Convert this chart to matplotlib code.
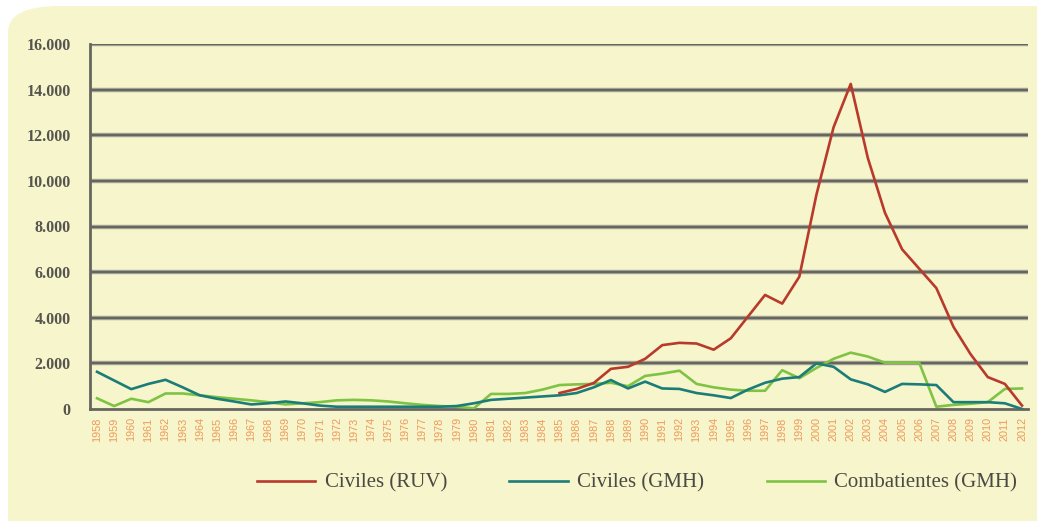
import numpy as np
import matplotlib
matplotlib.use("Agg")
import matplotlib.pyplot as plt
from matplotlib.patches import FancyBboxPatch

years = np.arange(1958, 2013)
year_labels = [str(y) for y in years]

ruv_years = np.arange(1985, 2013)
civiles_ruv = [700, 880, 1140, 1760, 1850, 2200, 2800, 2900, 2870, 2600,
               3100, 4050, 5000, 4620, 5800, 9400, 12350, 14250, 11000, 8600,
               7000, 6150, 5300, 3600, 2400, 1400, 1100, 150]

civiles_gmh = [1630, 1250, 870, 1100, 1280, 950, 600, 450, 330, 200,
               250, 330, 250, 150, 100, 100, 100, 100, 100, 100,
               100, 130, 250, 400, 450, 500, 550, 600, 700, 950,
               1270, 900, 1200, 900, 880, 700, 600, 480, 850, 1150,
               1330, 1400, 2000, 1850, 1300, 1080, 750, 1100, 1080, 1050,
               300, 300, 300, 250, 0]

combatientes_gmh = [470, 130, 450, 300, 680, 680, 600, 520, 450, 380,
                    300, 200, 250, 300, 380, 400, 380, 330, 250, 180,
                    130, 100, 30, 660, 660, 700, 850, 1050, 1080, 1100,
                    1150, 1000, 1450, 1550, 1680, 1100, 950, 850, 800, 800,
                    1700, 1350, 1800, 2200, 2470, 2300, 2030, 2030, 2030, 100,
                    180, 230, 300, 880, 900]

y_ticks = [0, 2000, 4000, 6000, 8000, 10000, 12000, 14000, 16000]
y_tick_labels = ["0", "2.000", "4.000", "6.000", "8.000", "10.000", "12.000", "14.000", "16.000"]

series_names = ["Civiles (RUV)", "Civiles (GMH)", "Combatientes (GMH)"]
colors = ["#B83A2C", "#1C7C78", "#7EC344"]

W, H = 1037, 521
fig = plt.figure(figsize=(W / 100, H / 100), dpi=100)
fig.patch.set_facecolor("white")

bg = FancyBboxPatch((8 / W, -0.1), 1.2, (H - 6) / H + 0.1,
                    boxstyle="round,pad=0,rounding_size=0.05",
                    transform=fig.transFigure, facecolor="#F7F5CC",
                    edgecolor="none", zorder=-10)
fig.patches.append(bg)

ax = fig.add_axes([90 / W, (H - 409) / H, (1028 - 90) / W, 365 / H])
ax.set_facecolor("none")
ax.set_zorder(1)

ax.set_xlim(1957.59, 2012.35)
ax.set_ylim(0, 16000)

for yt in y_ticks[1:]:
    ax.axhline(yt, color="#A8A898", lw=3.2, zorder=1)
    ax.axhline(yt, color="#666660", lw=1.6, zorder=1)

ax.plot(years, combatientes_gmh, color=colors[2], lw=1.9, zorder=3, label=series_names[2])
ax.plot(years, civiles_gmh, color=colors[1], lw=1.9, zorder=4, label=series_names[1])
ax.plot(ruv_years, civiles_ruv, color=colors[0], lw=1.9, zorder=5, label=series_names[0])

for s in ["top", "right"]:
    ax.spines[s].set_visible(False)
for s in ["left", "bottom"]:
    ax.spines[s].set_color("#666660")
    ax.spines[s].set_linewidth(2.0)

ax.set_yticks(y_ticks)
ax.set_yticklabels(y_tick_labels, fontfamily="Liberation Serif", fontweight="bold",
                   fontsize=11.5, color="#55554E")
ax.set_xticks(years)
ax.set_xticklabels(year_labels, rotation=90, fontfamily="Liberation Sans",
                   fontsize=7.8, color="#EE9A5A")
ax.tick_params(axis="y", length=0, pad=14)
ax.tick_params(axis="x", length=0, pad=6)

handles, labels = ax.get_legend_handles_labels()
order = [2, 1, 0]
leg = fig.legend([handles[i] for i in order], [labels[i] for i in order],
                 loc="center", bbox_to_anchor=(637 / W, (H - 483) / H),
                 ncol=3, frameon=False, handlelength=2.8, handletextpad=0.45,
                 columnspacing=3.0,
                 prop={"family": "Liberation Serif", "size": 15})
for t in leg.get_texts():
    t.set_color("#4A4A44")

fig.savefig("out.png", dpi=100, facecolor=fig.get_facecolor())
